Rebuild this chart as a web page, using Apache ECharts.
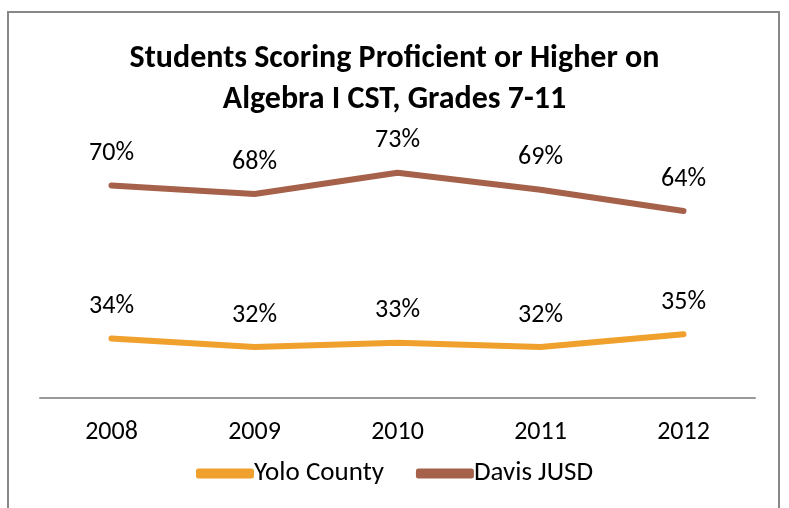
<!DOCTYPE html>
<html>
<head>
<meta charset="utf-8">
<script src="https://cdn.jsdelivr.net/npm/echarts@6/dist/echarts.min.js"></script>
<style>
  html, body { margin: 0; padding: 0; background: #fff; }
  #chart { width: 789px; height: 508px; }
</style>
</head>
<body>
<div id="chart"></div>
<script>
const years = ["2008", "2009", "2010", "2011", "2012"];
const yoloCounty = [34, 32, 33, 32, 35];
const davisJusd = [70, 68, 73, 69, 64];

const font = "Carlito, Calibri, 'Open Sans', sans-serif";

const chart = echarts.init(document.getElementById("chart"));

function lineSeries(name, data, color) {
  return {
    name: name,
    type: "line",
    data: data,
    symbol: "circle",
    symbolSize: 0,
    showSymbol: true,
    lineStyle: { width: 6, color: color, cap: "round", join: "round" },
    itemStyle: { color: color },
    label: {
      show: true,
      position: "top",
      distance: 19,
      formatter: (p) => p.value + "%",
      color: "#000",
      fontSize: 26,
      fontFamily: font,
    },
  };
}

chart.setOption({
  animation: false,
  title: {
    text: "Students Scoring Proficient or Higher on\nAlgebra I CST, Grades 7-11",
    left: "center",
    top: 33,
    textStyle: {
      fontSize: 32,
      fontWeight: "bold",
      color: "#000",
      fontFamily: font,
      lineHeight: 41,
    },
  },
  graphic: [
    {
      type: "rect",
      shape: { x: 8, y: 12, width: 771, height: 510 },
      style: { fill: "none", stroke: "#888", lineWidth: 2 },
      silent: true,
    },
  ],
  legend: {
    bottom: 16,
    left: "center",
    icon: "roundRect",
    itemWidth: 58,
    itemHeight: 10,
    itemGap: 32,
    textStyle: { fontSize: 27, color: "#000", fontFamily: font, padding: [0, 0, 0, -5] },
    data: ["Yolo County", "Davis JUSD"],
  },
  grid: { left: 40, right: 34, top: 143, bottom: 110 },
  xAxis: {
    type: "category",
    data: years,
    boundaryGap: true,
    axisLine: { lineStyle: { color: "#999", width: 2 } },
    axisTick: { show: false },
    axisLabel: { color: "#000", fontSize: 26, fontFamily: font, margin: 21 },
  },
  yAxis: {
    type: "value",
    min: 20,
    max: 80,
    show: false,
    splitLine: { show: false },
  },
  series: [
    lineSeries("Yolo County", yoloCounty, "#F0A02C"),
    lineSeries("Davis JUSD", davisJusd, "#A5614A"),
  ],
});
</script>
</body>
</html>
